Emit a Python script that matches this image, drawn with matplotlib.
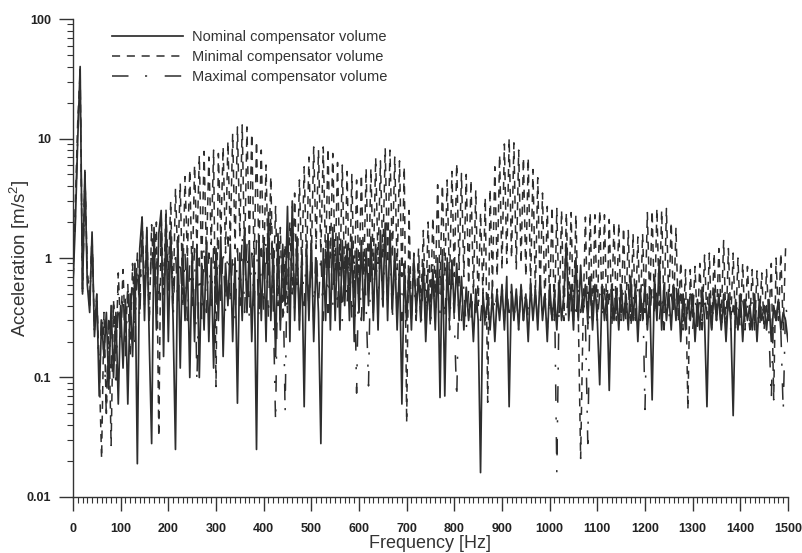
import numpy as np
import matplotlib
matplotlib.use('Agg')
import matplotlib.pyplot as plt
from matplotlib.ticker import MultipleLocator, LogLocator, FixedLocator, NullFormatter

plt.rcParams['font.family'] = ['Liberation Sans', 'DejaVu Sans']
plt.rcParams['mathtext.default'] = 'regular'

# frequency grid, 5 Hz step
freq = np.arange(0, 1501, 5)

# acceleration [m/s2]
nominal = [
    0.6, 2.0, 10, 40, 0.5, 5.4, 0.6, 0.35, 1.65, 0.22,
    0.5, 0.07, 0.3, 0.15, 0.35, 0.08, 0.4, 0.1, 0.35, 0.06,
    0.4, 0.12, 0.45, 0.06, 0.5, 0.15, 0.9, 0.019, 1.2, 2.2,
    0.3, 1.8, 0.2, 0.028, 1.8, 0.25, 1.6, 2.5, 0.15, 2.2,
    0.2, 1.7, 0.3, 0.025, 1.5, 0.12, 1.3, 0.3, 1.0, 0.1,
    1.1, 0.2, 1.3, 0.1, 0.9, 0.25, 1.4, 0.2, 1.0, 0.12,
    1.2, 0.3, 1.5, 0.15, 0.9, 0.4, 1.3, 0.2, 1.0, 0.061,
    1.1, 0.3, 1.8, 0.35, 1.3, 0.2, 1.0, 0.025, 1.5, 0.3,
    1.4, 0.2, 2.4, 0.3, 1.2, 0.15, 1.6, 0.25, 1.3, 0.4,
    2.7, 0.2, 3.0, 0.3, 1.5, 0.25, 1.0, 0.057, 1.2, 0.3,
    1.4, 0.2, 1.0, 0.35, 0.028, 1.2, 0.3, 1.6, 0.25, 1.8,
    0.3, 1.5, 0.25, 1.4, 0.4, 1.3, 0.3, 1.5, 0.2, 1.2,
    0.35, 1.4, 0.3, 1.2, 0.4, 1.5, 0.3, 1.3, 0.25, 1.7,
    0.4, 1.96, 0.3, 1.7, 0.35, 1.2, 0.25, 0.9, 0.06, 0.85,
    0.3, 0.8, 0.25, 1.0, 0.35, 0.7, 0.3, 0.9, 0.2, 0.6,
    0.3, 0.8, 0.25, 1.0, 0.068, 1.17, 0.07, 1.0, 0.3, 0.96,
    0.35, 0.9, 0.3, 0.7, 0.25, 0.57, 0.3, 0.5, 0.2, 0.55,
    0.3, 0.016, 0.5, 0.3, 0.45, 0.25, 0.5, 0.2, 0.5, 0.3,
    0.6, 0.25, 0.7, 0.057, 0.6, 0.3, 0.55, 0.25, 0.6, 0.3,
    0.5, 0.2, 0.6, 0.3, 0.55, 0.25, 0.7, 0.3, 0.5, 0.2,
    0.6, 0.3, 0.5, 0.25, 0.65, 0.3, 0.5, 1.33, 0.3, 0.6,
    0.25, 1.0, 0.3, 0.87, 0.35, 0.6, 0.3, 0.7, 0.25, 0.6,
    0.3, 0.087, 0.6, 0.3, 0.5, 0.078, 0.6, 0.3, 0.55, 0.25,
    0.6, 0.3, 0.5, 0.25, 0.7, 0.3, 0.6, 0.2, 0.55, 0.3,
    0.6, 0.25, 0.5, 0.065, 0.7, 0.3, 0.96, 0.25, 0.6, 0.3,
    0.5, 0.25, 0.6, 0.3, 0.55, 0.2, 0.5, 0.25, 0.45, 0.3,
    0.5, 0.2, 0.45, 0.25, 0.57, 0.3, 0.057, 0.5, 0.25, 0.55,
    0.3, 0.5, 0.25, 0.45, 0.2, 0.5, 0.3, 0.048, 0.45, 0.25,
    0.5, 0.2, 0.45, 0.3, 0.4, 0.25, 0.5, 0.2, 0.45, 0.3,
    0.4, 0.25, 0.45, 0.2, 0.4, 0.3, 0.45, 0.25, 0.35, 0.3,
    0.2,
]

minimal = [
    0.7, 3.0, 14, 36, 0.55, 5.0, 0.8, 0.45, 1.5, 0.25,
    0.5, 0.12, 0.021, 0.35, 0.05, 0.3, 0.027, 0.45, 0.15, 0.75,
    0.25, 0.8, 0.2, 0.6, 0.15, 0.9, 0.3, 1.1, 0.4, 2.2,
    0.5, 1.7, 0.3, 1.9, 0.6, 2.0, 0.032, 2.3, 0.5, 2.6,
    0.7, 3.0, 0.4, 3.8, 0.9, 4.2, 0.5, 4.8, 1.0, 5.5,
    0.6, 6.0, 1.2, 7.2, 0.8, 7.8, 1.0, 7.0, 1.3, 8.0,
    0.084, 7.5, 1.5, 8.5, 1.1, 9.5, 1.4, 11, 1.2, 12.5,
    1.5, 13, 1.0, 12.5, 1.3, 11, 0.9, 9.5, 1.1, 8.0,
    0.8, 6.0, 0.7, 4.8, 0.5, 2.7, 0.4, 1.8, 0.3, 1.3,
    0.35, 2.0, 0.5, 3.5, 0.6, 4.5, 0.8, 5.8, 0.9, 7.0,
    1.0, 8.5, 1.2, 8.0, 1.1, 8.5, 0.9, 8.3, 1.0, 7.5,
    0.8, 6.3, 0.7, 6.0, 0.6, 5.3, 0.5, 5.0, 0.5, 4.5,
    0.6, 5.0, 0.7, 5.6, 0.6, 5.6, 0.8, 6.9, 0.9, 6.5,
    1.0, 8.3, 0.9, 8.0, 1.0, 7.0, 0.8, 6.5, 0.7, 5.8,
    0.042, 2.5, 0.3, 1.1, 0.35, 1.2, 0.4, 1.7, 0.35, 2.0,
    0.4, 2.2, 0.5, 4.1, 0.6, 4.1, 0.7, 4.5, 0.6, 5.3,
    0.7, 6.2, 0.8, 5.1, 0.7, 5.0, 0.6, 4.5, 0.5, 3.7,
    0.4, 2.4, 0.5, 3.2, 0.062, 3.8, 0.6, 5.8, 0.7, 7.3,
    0.8, 9.0, 0.9, 10, 1.0, 9.2, 0.8, 8.0, 0.9, 6.9,
    0.7, 6.9, 0.6, 5.5, 0.5, 4.7, 0.5, 3.5, 0.4, 2.7,
    0.4, 2.7, 0.3, 2.6, 0.35, 2.5, 0.3, 2.4, 0.4, 2.4,
    0.3, 2.3, 0.35, 0.021, 0.3, 2.2, 0.25, 2.4, 0.3, 2.3,
    0.3, 2.5, 0.35, 2.3, 0.3, 2.1, 0.35, 2.0, 0.3, 1.96,
    0.3, 1.8, 0.35, 1.7, 0.3, 1.6, 0.3, 1.5, 0.3, 1.6,
    0.35, 2.4, 0.4, 2.5, 0.35, 2.6, 0.4, 2.5, 0.35, 2.6,
    0.4, 2.0, 0.35, 1.8, 0.3, 0.93, 0.25, 0.8, 0.054, 0.8,
    0.3, 0.85, 0.25, 0.9, 0.3, 1.06, 0.3, 1.1, 0.25, 1.1,
    0.3, 1.2, 0.3, 1.4, 0.25, 1.2, 0.3, 1.1, 0.25, 1.0,
    0.3, 0.9, 0.25, 0.85, 0.3, 0.8, 0.25, 0.78, 0.3, 0.75,
    0.25, 0.8, 0.3, 0.9, 0.065, 1.0, 0.3, 1.1, 0.25, 1.23,
    1.3,
]

maximal = [
    0.6, 2.2, 11, 38, 0.5, 5.2, 0.7, 0.4, 1.6, 0.25,
    0.4, 0.1, 0.35, 0.2, 0.049, 0.3, 0.12, 0.4, 0.08, 0.5,
    0.2, 0.6, 0.15, 0.5, 0.3, 0.8, 0.2, 1.0, 0.3, 1.5,
    0.4, 1.2, 0.3, 1.5, 0.5, 1.3, 0.4, 1.8, 0.3, 1.6,
    0.5, 1.4, 0.3, 1.2, 0.4, 1.0, 0.35, 1.1, 0.3, 0.9,
    0.4, 1.2, 0.09, 1.0, 0.3, 1.3, 0.35, 1.1, 0.4, 1.2,
    0.3, 1.4, 0.4, 1.2, 0.35, 1.5, 0.4, 1.1, 0.3, 1.2,
    0.4, 1.6, 0.35, 1.3, 0.3, 1.1, 0.4, 1.4, 0.3, 1.2,
    0.35, 1.5, 0.3, 2.4, 0.4, 0.042, 1.3, 0.3, 1.1, 0.05,
    1.5, 0.3, 2.8, 0.35, 1.4, 0.3, 1.2, 0.4, 1.3, 0.35,
    1.2, 0.3, 1.4, 0.4, 1.1, 0.3, 1.5, 0.35, 1.3, 0.4,
    1.2, 0.35, 1.3, 0.3, 1.1, 0.4, 1.2, 0.3, 1.0, 0.074,
    1.1, 0.3, 1.2, 0.4, 0.085, 1.3, 0.35, 1.2, 0.4, 1.4,
    0.35, 1.6, 0.4, 1.4, 0.3, 1.1, 0.35, 1.0, 0.3, 0.9,
    0.3, 0.9, 0.35, 0.8, 0.3, 0.9, 0.25, 0.7, 0.3, 0.8,
    0.25, 0.9, 0.3, 0.85, 0.35, 1.0, 0.3, 0.9, 0.25, 0.8,
    0.3, 0.065, 0.7, 0.3, 0.6, 0.25, 0.55, 0.3, 0.6, 0.35,
    0.5, 0.3, 0.55, 0.25, 0.5, 0.3, 0.6, 0.35, 0.55, 0.3,
    0.6, 0.3, 0.55, 0.35, 0.6, 0.3, 0.5, 0.25, 0.6, 0.3,
    0.55, 0.3, 0.6, 0.35, 0.5, 0.3, 0.6, 0.3, 0.55, 0.25,
    0.5, 0.3, 0.6, 0.016, 0.5, 0.3, 0.55, 0.3, 0.6, 0.35,
    0.5, 0.3, 0.6, 0.35, 0.5, 0.3, 0.028, 0.5, 0.3, 0.55,
    0.3, 0.5, 0.35, 0.55, 0.3, 0.5, 0.25, 0.6, 0.3, 0.5,
    0.35, 0.55, 0.3, 0.6, 0.25, 0.5, 0.3, 0.55, 0.35, 0.6,
    0.054, 0.5, 0.3, 0.6, 0.35, 0.55, 0.3, 0.5, 0.25, 0.55,
    0.3, 0.5, 0.35, 0.6, 0.3, 0.5, 0.25, 0.45, 0.3, 0.5,
    0.25, 0.45, 0.3, 0.5, 0.25, 0.5, 0.3, 0.45, 0.25, 0.5,
    0.3, 0.45, 0.25, 0.5, 0.3, 0.45, 0.25, 0.4, 0.3, 0.45,
    0.25, 0.45, 0.3, 0.4, 0.25, 0.45, 0.3, 0.4, 0.25, 0.45,
    0.3, 0.4, 0.25, 0.065, 0.4, 0.3, 0.45, 0.25, 0.052, 0.4,
    0.3,
]

col = '#2e2e2e'

fig = plt.figure(figsize=(8.03, 5.53), dpi=100)
ax = fig.add_axes([0.0909, 0.1013, 0.8904, 0.8643])

ax.plot(freq, maximal, color=col, lw=1.1, dashes=(10.8, 10.8, 1.4, 11.5), label='Maximal compensator volume', zorder=2)
ax.plot(freq, minimal, color=col, lw=1.1, dashes=(5.3, 4.4), label='Minimal compensator volume', zorder=3)
ax.plot(freq, nominal, color=col, lw=1.25, label='Nominal compensator volume', zorder=4)

ax.set_yscale('log')
ax.set_xlim(0, 1500)
ax.set_ylim(0.01, 100)

ax.xaxis.set_major_locator(MultipleLocator(100))
ax.xaxis.set_minor_locator(MultipleLocator(10))
ax.yaxis.set_major_locator(FixedLocator([0.01, 0.1, 1, 10, 100]))
ax.yaxis.set_major_formatter(plt.FuncFormatter(lambda v, p: f'{v:g}'))
ax.yaxis.set_minor_locator(LogLocator(base=10, subs=np.arange(2, 10)))
ax.yaxis.set_minor_formatter(NullFormatter())

for s in ['top', 'right']:
    ax.spines[s].set_visible(False)
for s in ['left', 'bottom']:
    ax.spines[s].set_color('#333333')
    ax.spines[s].set_linewidth(1.0)

ax.tick_params(axis='both', which='major', direction='out', length=10, width=1.0, color='#333333',
               labelsize=9, labelcolor='#222222')
ax.tick_params(axis='both', which='minor', direction='out', length=4.5, width=0.8, color='#333333')
ax.tick_params(axis='x', which='major', pad=9)
ax.tick_params(axis='y', which='major', pad=6)
for lab in ax.get_xticklabels() + ax.get_yticklabels():
    lab.set_fontweight('bold')

ax.set_xlabel('Frequency [Hz]', fontsize=13, color='#333333', labelpad=0)
ax.set_ylabel('Acceleration [m/s$^2$]', fontsize=13.5, color='#333333')
ax.yaxis.set_label_coords(-0.058, 0.5)

handles, labels = ax.get_legend_handles_labels()
order = [2, 1, 0]
leg = ax.legend([handles[i] for i in order], [labels[i] for i in order],
                loc='upper left', bbox_to_anchor=(0.0545, 0.977), frameon=False,
                fontsize=10.5, handlelength=4.86, handletextpad=0.6, labelspacing=0.4,
                borderpad=0, borderaxespad=0)
for t in leg.get_texts():
    t.set_color('#333333')

fig.savefig('out.png', dpi=100)
